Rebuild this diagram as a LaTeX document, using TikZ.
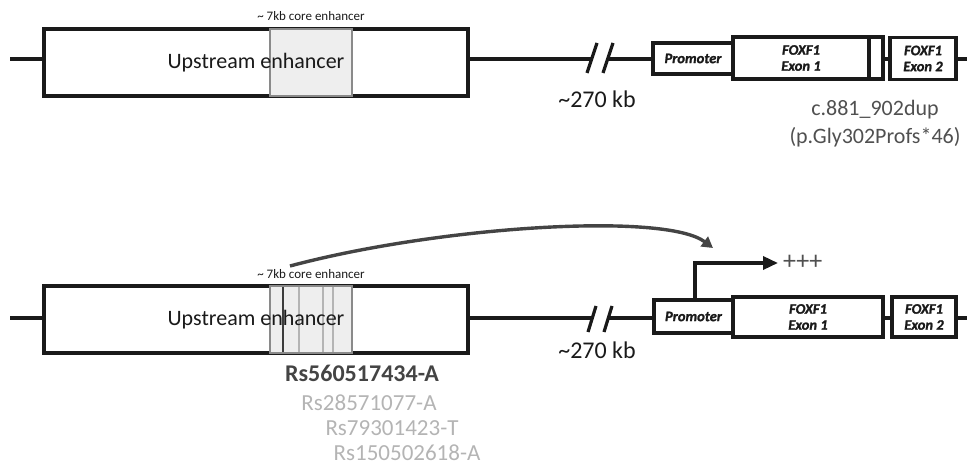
\documentclass[tikz,border=0pt]{standalone}
\usepackage{fontspec}
\setmainfont{Carlito}
\newfontfamily\heavyfont{Carlito}[BoldItalicFeatures={FakeBold=1.4}]
\usetikzlibrary{arrows.meta}
\definecolor{ink}{HTML}{1A1A1A}
\definecolor{coreborder}{HTML}{8A8A8A}
\definecolor{corefill}{HTML}{EEEEEE}
\definecolor{arrowgray}{HTML}{444444}
\definecolor{midgray}{HTML}{505050}
\definecolor{snpdark}{HTML}{444444}
\definecolor{snplight}{HTML}{B4B4B4}
\begin{document}
\begin{tikzpicture}[x=1pt,y=-1pt,
  gbox/.style={draw=ink, line width=3.2pt, fill=white, inner sep=0pt, outer sep=0pt},
  corebox/.style={draw=coreborder, line width=2pt, fill=corefill, inner sep=0pt, outer sep=0pt},
  dna/.style={draw=ink, line width=3.2pt},
  brk/.style={draw=ink, line width=3.2pt},
  glbl/.style={font=\heavyfont\fontsize{14.5}{16}\selectfont\bfseries\itshape, align=center, inner sep=0pt, text=ink},
  biglbl/.style={font=\fontsize{22}{24}\selectfont, inner sep=0pt, text=ink},
  kblbl/.style={font=\fontsize{24}{26}\selectfont, inner sep=0pt, text=ink},
  smalllbl/.style={font=\fontsize{13}{14}\selectfont, inner sep=0pt, text=ink},
  mutlbl/.style={font=\fontsize{22}{28}\selectfont, inner sep=0pt, text=midgray, align=center},
  snpA/.style={font=\fontsize{24}{26}\selectfont\bfseries, inner sep=0pt, text=snpdark},
  snpB/.style={font=\fontsize{23}{26}\selectfont, inner sep=0pt, text=snplight},
  snpline/.style={line width=2pt}
]
\useasboundingbox (0,0) rectangle (967,465);

% ---------------- top row ----------------
\node[gbox, minimum width=424pt, minimum height=67pt] (enhA) at (256,62.5) {};
\node[corebox, minimum width=82pt, minimum height=67pt] (coreA) at (311,62.5) {};
\node[biglbl] (enhAtxt) at (256,63) {Upstream enhancer};
\node[smalllbl] (coreAtxt) at (311,16) {\textasciitilde{} 7kb core enhancer};

\coordinate (lA0) at (10,59);
\coordinate (bA1) at (592,59);
\coordinate (bA2) at (608,59);
\coordinate (lAend) at (967,59);
\draw[dna] (lA0) -- (lA0 -| enhA.west);
\draw[dna] (enhA.east |- lA0) -- (bA1);

\node[gbox, minimum width=80pt, minimum height=31pt] (prA) at (693,58.5) {};
\node[glbl] at (prA.center) {Promoter};
\node[gbox, minimum width=136pt, minimum height=42pt] (exA1) at (801,58) {};
\node[glbl] at (exA1.center) {FOXF1\\Exon 1};
\node[gbox, minimum width=14pt, minimum height=42pt] (exA1b) at (876,58) {};
\node[gbox, minimum width=66pt, minimum height=42pt] (exA2) at (923,58.5) {};
\node[glbl] at (exA2.center) {FOXF1\\Exon 2};

\draw[dna] (bA2) -- (prA.west |- bA2);
\draw[dna] (exA1b.east |- lA0) -- (exA2.west |- lA0);
\draw[dna] (exA2.east |- lA0) -- (lAend);

\coordinate (sA1b) at (587,73); \coordinate (sA1t) at (597,43);
\coordinate (sA2b) at (603,73); \coordinate (sA2t) at (613,43);
\draw[brk] (sA1b) -- (sA1t);
\draw[brk] (sA2b) -- (sA2t);

\node[kblbl] (kbA) at (597,99) {\textasciitilde270 kb};
\node[mutlbl] (mutA) at (875,124) {c.881\_902dup\\(p.Gly302Profs*46)};

% ---------------- bottom row ----------------
\node[gbox, minimum width=424pt, minimum height=67pt] (enhB) at (256,319.5) {};
\node[corebox, minimum width=82pt, minimum height=67pt] (coreB) at (311,319.5) {};
\draw[snpline, color=snplight] (299,287) -- (299,352);
\draw[snpline, color=snplight] (323,287) -- (323,352);
\draw[snpline, color=snplight] (333,287) -- (333,352);
\draw[snpline, color=ink!85] (283,287) -- (283,352);
\node[biglbl] (enhBtxt) at (256,320) {Upstream enhancer};
\node[smalllbl] (coreBtxt) at (311,274) {\textasciitilde{} 7kb core enhancer};

\coordinate (lB0) at (10,318);
\coordinate (bB1) at (592,318);
\coordinate (bB2) at (608,318);
\coordinate (lBend) at (967,318);
\draw[dna] (lB0) -- (lB0 -| enhB.west);
\draw[dna] (enhB.east |- lB0) -- (bB1);

\node[gbox, minimum width=79pt, minimum height=33pt] (prB) at (693.5,316.5) {};
\node[glbl] at (prB.center) {Promoter};
\node[gbox, minimum width=150pt, minimum height=40pt] (exB1) at (808,317) {};
\node[glbl] at (exB1.center) {FOXF1\\Exon 1};
\node[gbox, minimum width=64pt, minimum height=40pt] (exB2) at (924,317) {};
\node[glbl] at (exB2.center) {FOXF1\\Exon 2};

\draw[dna] (bB2) -- (prB.west |- bB2);
\draw[dna] (exB1.east |- lB0) -- (exB2.west |- lB0);
\draw[dna] (exB2.east |- lB0) -- (lBend);

\coordinate (sB1b) at (588,332); \coordinate (sB1t) at (596,306);
\coordinate (sB2b) at (604,332); \coordinate (sB2t) at (612,306);
\draw[brk] (sB1b) -- (sB1t);
\draw[brk] (sB2b) -- (sB2t);

\node[kblbl] (kbB) at (597,350) {\textasciitilde270 kb};

% transcription start arrow
\coordinate (tssTop) at (695,263);
\coordinate (tssEnd) at (778,263);
\draw[draw=ink, line width=3.4pt, -{Triangle[length=15pt,width=13pt]}]
  (tssTop |- prB.north) -- (tssTop) -- (tssEnd);
\node[font=\fontsize{26}{26}\selectfont, inner sep=0pt, text=midgray, anchor=west] (plus) at (783,262) {+++};

% enhancer-to-promoter curved arrow
\coordinate (cvS) at (290,266);
\coordinate (cvE) at (713,248);
\draw[draw=arrowgray, line width=3.4pt, -{Triangle[length=11pt,width=12pt]}]
  (cvS) .. controls (440,226) and (665,212) .. (cvE);

% SNP labels
\node[snpA] (s1) at (362,373) {Rs560517434-A};
\node[snpB] (s2) at (369,403) {Rs28571077-A};
\node[snpB] (s3) at (392,428) {Rs79301423-T};
\node[snpB] (s4) at (407,453) {Rs150502618-A};
\end{tikzpicture}
\end{document}
